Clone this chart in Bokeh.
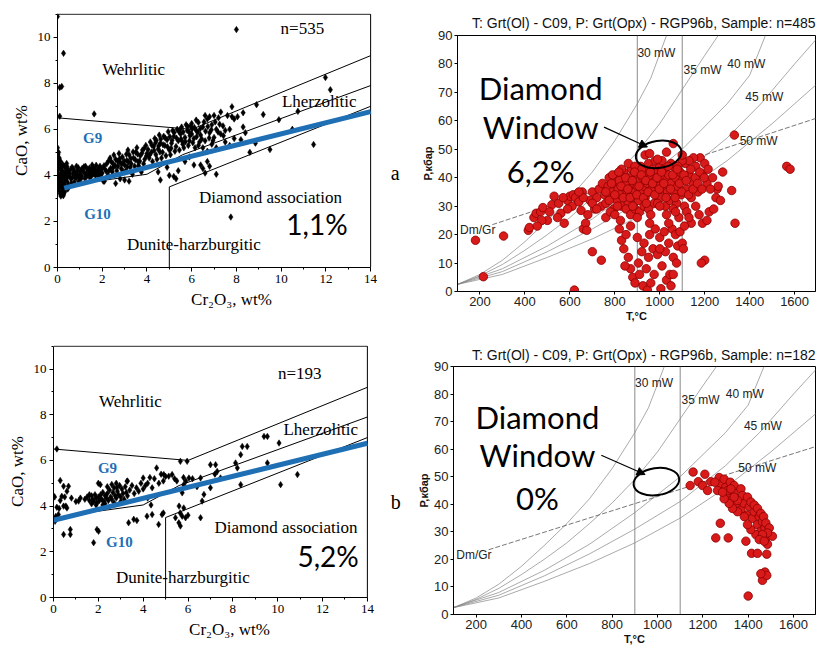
from bokeh.plotting import figure
from bokeh.models import Range1d, FixedTicker, Label, Arrow, NormalHead
from bokeh.layouts import row, column
from bokeh.embed import file_html
from bokeh.resources import INLINE

# ---------------- data: Cr2O3 - CaO diagrams ----------------
x_ticks_cr = [0, 2, 4, 6, 8, 10, 12, 14]
x_minor_cr = list(range(0, 15))
y_ticks_ca = [0, 2, 4, 6, 8, 10]
y_minor_ca = list(range(0, 12))

wehr_x = [0, 6, 14]
wehr_y = [6.5, 6.0, 9.2]
lherz_x = [1.2, 4.0, 5.6, 14]
lherz_y = [3.67, 4.05, 4.9, 7.9]
diam_x = [5, 5, 14]
diam_y = [0, 3.5, 7.0]
frame_top_x = [0, 14]
frame_top_y = [11, 11]
frame_right_x = [14, 14]
frame_right_y = [0, 11]
g_line_x_a = [0.3, 14]
g_line_y_a = [3.45, 6.77]
g_line_x_b = [0, 14]
g_line_y_b = [3.38, 6.75]

cr_a = [0.0, 0.02, 0.05, 0.03, 0.0, 0.06, 0.02, 0.08, 0.04, 0.1, 0.12, 0.15, 0.1, 0.12, 0.15, 0.18, 0.2, 0.22, 0.25, 0.28,
        0.18, 0.22, 0.25, 0.3, 0.32, 0.35, 0.38, 0.4, 0.42, 0.45, 0.48, 0.05, 0.08, 0.12, 0.16, 0.27, 0.3, 0.35, 0.06, 0.2,
        0.33, 0.5, 0.55, 0.6,
        0.7, 0.8, 0.9, 1.0, 1.1, 1.2, 1.3, 1.4, 1.5, 1.6, 1.7, 1.8, 1.9, 2.0, 0.65, 0.85, 1.05, 1.25, 1.45, 1.65, 1.85, 0.75,
        0.95, 1.55, 2.05,
        2.1, 2.2, 2.3, 2.4, 2.5, 2.6, 2.7, 2.8, 2.9, 3.0, 3.1, 3.2, 3.3, 3.4, 3.5, 3.6, 3.7, 3.8, 3.9, 4.0, 2.25, 2.45, 2.65,
        2.85, 3.05, 3.25, 3.45, 3.65, 3.85, 2.35, 2.75, 3.15, 3.55, 3.95, 2.6, 2.8, 3.0, 3.2, 2.1, 3.35, 3.75,
        4.1, 4.2, 4.3, 4.4, 4.5, 4.6, 4.7, 4.8, 4.9, 5.0, 5.1, 5.2, 5.3, 5.4, 5.5, 5.6, 5.7, 5.8, 5.9, 6.0, 4.15, 4.35, 4.55,
        4.75, 4.95, 5.15, 5.35, 5.55, 5.75, 4.25, 4.45, 4.65, 4.85, 5.05, 5.25, 5.45, 5.65, 5.85, 4.6, 4.5, 5.0, 5.2, 5.3,
        5.4, 4.9, 5.7, 5.9, 6.1,
        6.1, 6.2, 6.3, 6.4, 6.5, 6.6, 6.7, 6.8, 6.9, 7.0, 7.1, 7.2, 7.3, 7.4, 7.5, 7.6, 6.3, 6.5, 6.7, 6.9, 7.1, 6.2, 6.8,
        7.7, 7.9, 6.5, 6.6, 6.7, 6.8, 7.1, 6.4, 6.0, 6.15, 7.3, 7.0, 6.6, 7.8, 7.5, 7.9, 7.7,
        0.0, 0.27, 0.1, 0.19, 0.1, 1.64, 8.0, 11.98, 12.2, 8.9, 7.8, 8.3, 9.2, 10.75, 8.85, 8.4, 8.2, 8.6, 9.5, 10.5, 11.45,
        9.9, 7.75, 8.3, 8.05,
        0.13, 0.23, 0.33, 0.43, 0.52, 0.58, 0.63, 0.68, 0.72, 0.78, 0.83, 0.88, 0.93, 0.98, 0.07, 0.17, 0.26, 0.36, 0.46, 0.41,
        1.03, 1.08, 1.13, 1.18, 1.22, 1.28, 1.33, 1.38, 1.43, 1.47, 1.52, 1.57, 1.62, 1.68, 1.73, 1.78, 1.83, 1.88, 1.93, 1.98,
        2.08, 2.18, 2.28, 2.38, 2.48, 2.58, 2.68, 2.78, 2.88, 2.98, 3.08, 3.18, 3.28, 3.38, 3.48, 3.58, 3.68, 3.78, 3.88, 3.98,
        2.52, 3.12, 3.62, 2.93,
        4.05, 4.12, 4.22, 4.32, 4.42, 4.52, 4.62, 4.72, 4.82, 4.92, 5.02, 5.12, 5.22, 5.32, 5.42, 5.52, 5.62, 5.72, 5.82, 5.92,
        6.02, 4.58, 5.08, 5.58, 4.38, 5.48, 5.95, 5.88,
        6.05, 6.12, 6.22, 6.28, 6.38, 6.45, 6.55, 6.62, 6.72, 6.78, 6.88, 7.05, 7.18, 7.25, 7.42, 6.35, 6.95]
ca_a = [5.2, 4.9, 4.6, 4.4, 4.2, 4.0, 3.8, 3.6, 3.45, 3.3, 3.2, 3.1, 4.5, 4.3, 4.1, 3.9, 3.7, 3.5, 3.35, 3.2,
        4.4, 4.2, 4.0, 3.85, 3.6, 3.45, 4.3, 4.1, 3.9, 3.7, 4.2, 5.0, 4.75, 3.95, 3.75, 3.6, 4.4, 4.15, 3.95, 3.25,
        3.3, 3.55, 4.05, 3.85,
        4.1, 3.95, 4.2, 4.05, 4.3, 4.1, 3.95, 4.25, 4.1, 4.35, 4.0, 4.2, 4.4, 4.1, 4.35, 4.4, 3.85, 4.4, 3.9, 4.15, 3.95, 3.7,
        3.75, 4.45, 3.75,
        4.3, 4.5, 4.2, 4.6, 4.35, 4.7, 4.4, 4.55, 4.8, 4.45, 4.65, 4.9, 4.5, 4.75, 5.0, 4.6, 4.85, 5.1, 4.7, 4.95, 4.0, 4.15, 4.2,
        4.3, 4.2, 4.35, 4.4, 4.35, 4.5, 4.75, 4.95, 5.1, 5.2, 5.3, 3.65, 3.85, 3.8, 3.75, 3.75, 4.05, 4.15,
        4.75, 5.0, 5.25, 4.9, 5.15, 5.4, 5.0, 5.3, 5.55, 5.1, 5.4, 5.7, 5.25, 5.5, 5.8, 5.35, 5.65, 5.95, 5.5, 5.8, 5.45, 5.6, 5.75,
        5.7, 5.9, 5.95, 6.0, 6.1, 6.2, 4.6, 4.7, 4.75, 4.85, 4.9, 5.05, 5.1, 5.2, 5.3, 3.8, 4.15, 4.0, 3.95, 3.85,
        4.2, 4.35, 4.6, 4.8, 4.45,
        5.6, 5.95, 6.3, 5.75, 6.1, 5.5, 6.45, 5.85, 6.2, 5.65, 6.0, 6.5, 5.8, 6.15, 5.45, 6.6, 5.3, 5.2, 5.05, 5.35, 5.2, 6.4, 6.55,
        6.0, 6.45, 4.3, 4.1, 4.6, 4.4, 4.05, 4.45, 6.25, 5.2, 6.75, 6.6, 6.6, 6.55, 5.95, 5.6, 5.3,
        10.9, 9.3, 7.82, 7.86, 6.57, 6.67, 10.33, 8.25, 7.72, 7.07, 6.98, 6.72, 6.64, 6.78, 5.4, 5.85, 5.55, 5.0, 5.12, 6.0, 5.34,
        6.42, 2.19, 6.1, 6.55,
        4.62, 4.48, 4.02, 4.38, 3.98, 4.24, 3.66, 3.92, 4.28, 4.14, 3.88, 4.02, 4.33, 3.93, 3.72, 3.48, 3.12, 3.82, 3.41, 4.52,
        4.18, 3.97, 4.22, 4.37, 3.88, 4.08, 4.27, 4.05, 4.32, 4.16, 3.98, 4.28, 4.06, 4.24, 4.44, 4.08, 4.31, 4.18, 4.02, 4.29,
        4.42, 4.18, 4.62, 4.31, 4.52, 4.42, 4.62, 4.72, 4.51, 4.63, 4.92, 4.58, 4.73, 5.02, 4.68, 4.93, 4.61, 4.97, 5.18, 4.85,
        4.88, 4.38, 4.42, 4.17,
        5.12, 4.88, 5.31, 5.08, 5.52, 5.28, 5.58, 5.33, 5.62, 5.24, 5.68, 5.52, 5.86, 5.62, 5.92, 5.58, 5.88, 5.46, 6.12, 5.72,
        6.02, 5.02, 5.18, 5.48, 5.42, 5.98, 6.15, 5.9,
        5.42, 6.08, 5.68, 5.88, 6.02, 5.58, 6.32, 5.92, 6.12, 5.62, 5.98, 6.32, 5.88, 6.22, 5.72, 5.45, 5.5]

cr_b = [0.0, 0.05, 0.15, 0.3, 0.45, 0.6, 0.67, 0.37, 0.45, 0.6, 0.22, 0.07, 0.1, 0.45, 0.75, 0.75, 0.3, 0.5, 0.8, 1.0,
        1.12, 1.2, 0.15, 0.25, 0.55,
        1.4, 1.5, 1.6, 1.7, 1.75, 1.8, 1.85, 1.9, 1.95, 2.0, 2.05, 2.1, 2.15, 2.2, 2.25, 2.3, 2.35, 2.4, 2.45, 2.5, 2.55,
        2.6, 2.65, 2.7, 2.75, 2.8, 2.85, 2.9, 2.95, 3.0, 3.05, 3.1, 3.2, 3.25, 3.3, 3.4, 3.5, 3.6, 3.7, 3.8, 3.9, 4.0,
        1.9, 2.3, 2.7, 1.6, 2.0, 2.4, 2.8, 3.3, 3.0, 2.2, 1.7, 2.6, 3.15,
        4.2, 4.3, 4.4, 4.5, 4.6, 4.7, 4.8, 4.9, 4.92, 5.0, 5.14, 5.29, 5.4, 5.5, 5.66, 5.96, 5.8, 5.9, 4.0, 3.28, 2.83, 2.09, 4.1,
        1.79, 1.94, 2.01, 3.35, 3.58, 3.72, 4.17, 4.4, 4.69, 4.84, 5.44, 5.59, 5.66, 5.74, 5.81, 5.89, 5.74, 5.81, 6.04, 5.6,
        5.65, 4.2, 4.35, 4.9,
        6.56, 6.63, 6.71, 6.56, 7.0, 7.23, 7.3, 7.45, 7.0, 8.12, 8.2, 8.35, 8.64, 8.42, 8.35, 9.39, 9.54, 9.54, 10.06, 10.13,
        10.88, 6.2, 6.4, 7.2, 6.0]
ca_b = [4.45, 4.4, 6.5, 5.12, 4.87, 4.65, 4.87, 4.43, 4.0, 3.92, 3.63, 3.34, 3.55, 2.76, 2.98, 2.76, 4.25, 4.4, 4.35, 4.2,
        4.22, 4.35, 3.95, 3.9, 4.0,
        4.3, 4.4, 4.25, 4.45, 4.3, 4.2, 4.5, 4.35, 4.15, 4.4, 4.25, 4.5, 4.3, 4.6, 4.2, 4.45, 4.35, 4.55, 4.25, 4.7, 4.4,
        4.3, 4.6, 4.8, 4.45, 4.35, 4.65, 4.5, 4.9, 4.4, 4.75, 4.55, 4.85, 4.6, 4.45, 4.7, 4.9, 4.55, 4.8, 4.65, 5.0, 4.75,
        4.05, 4.1, 4.15, 4.5, 5.0, 4.85, 5.0, 5.1, 4.2, 4.05, 4.1, 4.95, 4.3,
        5.0, 5.25, 4.8, 5.2, 5.67, 5.0, 5.4, 5.1, 5.38, 5.3, 5.31, 5.38, 5.2, 5.1, 5.96, 5.96, 5.25, 5.1, 5.23, 5.09, 4.8, 4.94, 4.9,
        2.4, 2.98, 2.9, 3.27, 3.42, 3.37, 3.56, 3.63, 3.2, 3.63, 3.49, 3.27, 3.13, 3.56, 3.92, 3.49, 4.58, 4.94, 5.23, 4.0,
        3.7, 4.35, 4.05, 3.7,
        3.49, 4.22, 4.51, 5.23, 5.81, 5.81, 5.52, 5.23, 4.8, 5.89, 5.67, 6.25, 6.61, 6.61, 4.94, 7.05, 7.05, 5.89, 6.76, 4.94,
        5.38, 5.2, 4.85, 5.4, 3.6]

# ---------------- data: P-T diagrams ----------------
t_ticks = [200, 400, 600, 800, 1000, 1200, 1400, 1600]
p_ticks = [0, 10, 20, 30, 40, 50, 60, 70, 80, 90]

geo30_t = [100, 200, 300, 400, 500, 600, 700, 800, 900, 960, 1030]
geo30_p = [2.5, 6, 11, 17.5, 25, 33, 42, 53, 66, 75, 90]
geo35_t = [100, 200, 300, 400, 500, 600, 700, 800, 900, 1000, 1100, 1200, 1260]
geo35_p = [2.5, 5.5, 9.5, 14.5, 20, 26, 33, 40.5, 49, 59, 71, 83, 90]
geo40_t = [100, 300, 500, 700, 900, 1100, 1300, 1400, 1470]
geo40_p = [2.5, 8, 16, 25.5, 37, 50, 66, 76, 90]
geo45_t = [100, 300, 500, 700, 900, 1100, 1300, 1450, 1600, 1700]
geo45_p = [2.5, 7, 14, 22, 31, 41, 54, 66, 80, 89]
geo50_t = [100, 300, 500, 700, 900, 1100, 1300, 1500, 1700]
geo50_p = [2.5, 6, 12, 18.5, 26, 35, 46, 59, 73]
dmgr_t = [255, 1700]
dmgr_p = [23.5, 61]
window_t = [900, 1100]

t_a = [180, 305, 215, 415, 420, 440, 450, 470, 480, 520, 530, 500, 550, 560, 575, 590, 600, 610, 615, 625, 640, 650,
       660, 655, 670, 675, 690, 700, 710, 700, 740, 620,
       720, 730, 740, 745, 755, 760, 770, 775, 780, 790, 795, 800, 805, 810, 815, 820, 825, 830, 835, 840, 845, 850, 855,
       860, 865, 870, 875, 880, 885, 890, 895, 900, 905, 910, 915, 920, 925, 930, 935, 940, 945, 950, 955, 960, 965, 970,
       975, 980, 985, 990, 995, 1000, 1005, 1010, 1015, 1020, 1025, 1030, 1035, 1040, 1045, 1050, 1060, 1065, 1070, 1075,
       1080, 1090, 1095, 1100, 1110, 1115, 1120, 1130, 1140, 1150, 1160, 1170, 1180, 1190, 1200, 1210, 1160, 1175, 1140,
       1190, 1210, 1220, 1240, 1250, 1255, 1280, 1260, 1150, 1130, 1100,
       760, 780, 800, 850, 870, 890, 910, 930, 950, 990, 1030, 1060, 1085, 1120, 900, 825,
       790, 830, 860, 890, 920, 980, 1010, 1050, 1080,
       935, 955, 1030, 1060, 1100, 990,
       1332, 1335, 1565, 1580, 1200, 1185, 1270, 1320,
       820, 830, 840, 850, 860, 870, 880, 890, 900, 905, 910, 920, 925, 930, 940, 945, 950, 955, 960, 970, 975, 980, 990,
       1000, 1005, 1010, 1020, 1025, 1030, 1040, 1045, 1050, 1055, 1060, 1070, 1080, 1090, 1100, 1105, 1110, 1060, 1000,
       955, 870, 845, 1075,
       760, 775, 785, 800, 812, 818, 828, 838, 848, 858, 868, 878, 888, 898, 908, 918, 928, 938, 948, 958, 968, 978, 988,
       998, 1008, 1018, 1028, 1038, 1048, 1058, 1068, 1078, 1088, 1098, 1108, 1118, 1128, 1138, 1148, 1158, 1168, 1178,
       1188, 1198, 1215, 1225, 1235, 880, 940, 1000, 1070, 1130, 960, 1040, 700, 720, 680, 660, 640, 590, 570, 545, 510,
       475, 455]
p_a = [18, 19.5, 5.2, 21.5, 22.5, 26, 27.5, 28, 29.5, 30.5, 33.5, 25, 31, 27.5, 24, 32, 33.5, 30, 34, 33, 31.5, 28.5,
       22, 35, 24, 21.5, 32, 35, 29, 14, 11, 0.5,
       33, 36, 30, 38, 34, 31, 37, 40, 33, 35, 29, 38, 41, 32, 36, 39, 34, 30, 37, 42, 33, 38, 35,
       31, 40, 36, 43, 33, 38, 35, 41, 37, 32, 39, 44, 35, 40, 37, 33, 42, 38, 45, 35, 40, 36, 43,
       31, 39, 34, 42, 37, 44, 33, 40, 36, 43, 30, 39, 35, 41, 32, 38, 44, 35, 40, 31,
       37, 42, 34, 39, 30, 45, 36, 41, 33, 38, 44, 35, 47, 41, 45, 38, 30, 27, 24,
       24, 25, 28, 29, 33, 36, 42, 37, 47, 46, 46,
       26, 28, 27, 29, 27, 29, 28, 30, 29, 31, 27, 29, 26, 28, 26, 25,
       41, 43, 45, 44, 43, 46, 46, 45, 44,
       48, 48.5, 49, 52, 48, 46.5,
       55, 24, 44, 43, 11, 10, 32, 35.5,
       22, 18, 15, 20, 12, 8, 5, 3, 19, 10, 6, 14, 2, 17, 8, 0.5, 12, 20, 3, 15, 6, 22, 13,
       19, 1, 9, 21, 14, 4, 17, 6, 2, 22, 12, 20, 16, 21, 17, 15, 23, 6, 15,
       24, 23, 9, 10,
       35, 32, 38, 34, 30, 42, 37, 33, 40, 36, 33, 39, 42, 34, 37, 41, 33, 39, 35, 42, 38, 34, 40,
       36, 42, 38, 33, 44, 36, 41, 33, 43, 38, 35, 41, 39, 34, 43, 36, 40, 38, 42,
       36, 40, 43, 36, 40, 30, 31, 30, 28, 26, 27, 24, 31, 29, 27, 33, 35, 29, 33, 26, 28,
       25, 23]

t_b = [1157, 1209, 1144, 1180, 1199, 1221, 1235, 1272, 1280, 1265, 1302, 1312, 1324, 1338, 1346, 1360, 1368, 1383,
       1394, 1405, 1419, 1427, 1441, 1449, 1456, 1463, 1474, 1478, 1485, 1507, 1434, 1412, 1397, 1383, 1353, 1331, 1316,
       1294, 1277, 1257, 1312, 1390, 1415, 1441, 1482, 1474, 1463, 1482, 1456, 1400, 1294, 1253, 1321, 1338, 1368, 1375,
       1397, 1412, 1427, 1441, 1456, 1468, 1478, 1493, 1485, 1463, 1449, 1471, 1353, 1338, 1309, 1287, 1324]
p_b = [51.7, 50.9, 46.8, 48.2, 46.8, 45.0, 48.2, 49.7, 47.4, 45.0, 46.2, 43.8, 41.4, 44.4, 39.7, 42.0, 37.9, 40.3,
       36.1, 39.1, 34.9, 37.3, 32.6, 35.5, 30.2, 33.7, 31.4, 27.8, 25.5, 28.4, 29.0, 30.8, 32.6, 35.5, 37.3, 38.5, 40.3,
       42.0, 33.1, 27.8, 27.8, 26.6, 22.2, 22.2, 21.9, 15.4, 12.4, 14.2, 14.8, 6.7, 49.1, 48.0, 48.0, 46.8, 45.6, 43.2,
       42.6, 40.8, 39.7, 38.5, 36.7, 35.5, 33.2, 31.4, 29.6, 29.0, 27.2, 26.6, 41.4, 42.6, 45.0, 44.4, 45.6]

SERIF = "Liberation Serif"
SANS = "Liberation Sans"
BIG = "Lato"


def left_panel(w, h, bl, bt, bb, x_end, xs, ys, gx, gy, texts, letter, letter_xy):
    p = figure(width=w, height=h, x_range=Range1d(0, x_end), y_range=Range1d(0, 11.03),
               output_backend="svg", toolbar_location=None, title=None,
               min_border_left=bl, min_border_right=0, min_border_top=bt, min_border_bottom=bb)
    p.frame_align = False
    p.grid.visible = False
    p.outline_line_color = None
    p.xaxis.ticker = FixedTicker(ticks=x_ticks_cr, minor_ticks=x_minor_cr)
    p.yaxis.ticker = FixedTicker(ticks=y_ticks_ca, minor_ticks=y_minor_ca)
    p.xaxis.bounds = (0, 14)
    p.yaxis.bounds = (0, 11)
    for ax in (p.xaxis[0], p.yaxis[0]):
        ax.axis_line_color = "black"
        ax.major_tick_in = 0
        ax.major_tick_out = 4
        ax.minor_tick_in = 0
        ax.minor_tick_out = 2
        ax.major_label_standoff = 3
        ax.major_label_text_font = SERIF
        ax.major_label_text_font_size = "13px"
        ax.major_label_text_color = "black"
        ax.axis_label_text_font = SERIF
        ax.axis_label_text_font_size = "17px"
        ax.axis_label_text_font_style = "normal"
        ax.axis_label_text_color = "black"
        ax.axis_label_standoff = 4
    p.xaxis.axis_label = "Cr\u2082O\u2083, wt%"
    p.yaxis.axis_label = "CaO, wt%"

    p.line(frame_top_x, frame_top_y, line_color="black", line_width=1)
    p.line(frame_right_x, frame_right_y, line_color="black", line_width=1)
    p.line(wehr_x, wehr_y, line_color="black", line_width=1)
    p.line(lherz_x, lherz_y, line_color="black", line_width=1)
    p.line(diam_x, diam_y, line_color="black", line_width=1)
    p.scatter(xs, ys, marker="diamond", size=6.5, fill_color="black", line_color="black", line_width=0.5)
    p.line(gx, gy, line_color="#1f6fb5", line_width=5)

    for (tx, x, y, font, size, color, style) in texts:
        p.add_layout(Label(x=x, y=y, text=tx, text_font=font, text_font_size=size, text_color=color,
                           text_font_style=style, text_align="center", text_baseline="middle"))
    p.add_layout(Label(x=letter_xy[0], y=letter_xy[1], text=letter, text_font=SERIF, text_font_size="20px",
                       text_align="center", text_baseline="middle", text_color="black"))
    return p


def right_panel(w, h, bl, br, bt, bb, x_end, ts, ps, title, pct, title_standoff):
    p = figure(width=w, height=h, x_range=Range1d(100, x_end), y_range=Range1d(0, 90),
               output_backend="svg", toolbar_location=None, title=title,
               min_border_left=bl, min_border_right=br, min_border_top=bt, min_border_bottom=bb)
    p.frame_align = False
    p.title.align = "right"
    p.title.text_font = SANS
    p.title.text_font_size = "14px"
    p.title.text_font_style = "normal"
    p.title.text_color = "#111111"
    p.title.standoff = title_standoff
    p.grid.visible = False
    p.outline_line_color = "black"
    p.outline_line_width = 1
    p.xaxis.ticker = FixedTicker(ticks=t_ticks)
    p.yaxis.ticker = FixedTicker(ticks=p_ticks)
    for ax in (p.xaxis[0], p.yaxis[0]):
        ax.axis_line_color = "black"
        ax.major_tick_in = 0
        ax.major_tick_out = 3
        ax.minor_tick_out = 0
        ax.minor_tick_in = 0
        ax.major_label_standoff = 2
        ax.major_label_text_font = SANS
        ax.major_label_text_font_size = "13px"
        ax.major_label_text_color = "#222222"
        ax.axis_label_text_font = SANS
        ax.axis_label_text_font_size = "11px"
        ax.axis_label_text_font_style = "bold"
        ax.axis_label_text_color = "#111111"
        ax.axis_label_standoff = 1
    p.yaxis.axis_label = "P,кбар"
    p.xaxis.axis_label = "T,°C"

    for t in window_t:
        p.line([t, t], [0, 90], line_color="#8a8a8a", line_width=1)
    for gt, gp in ((geo30_t, geo30_p), (geo35_t, geo35_p), (geo40_t, geo40_p),
                   (geo45_t, geo45_p), (geo50_t, geo50_p)):
        p.line(gt, gp, line_color="#858585", line_width=0.7)
    p.line(dmgr_t, dmgr_p, line_color="#555555", line_width=0.8, line_dash="5 2")

    for tx, x, y in (("30 mW", 985, 84), ("35 mW", 1190, 78), ("40 mW", 1385, 80),
                     ("45 mW", 1465, 68.5), ("50 mW", 1440, 53), ("Dm/Gr", 190, 21.5)):
        p.add_layout(Label(x=x, y=y, text=tx, text_font=SANS, text_font_size="12px",
                           text_align="center", text_baseline="middle", text_color="#222222"))

    p.scatter(ts, ps, marker="circle", size=8.5, fill_color="#d91a1a", line_color="#8c0000", line_width=0.8)

    p.ellipse(x=[995], y=[48.2], width=46, height=27, width_units="screen", height_units="screen",
              angle=0.15, fill_color=None, line_color="black", line_width=2)
    p.add_layout(Arrow(end=NormalHead(size=8, fill_color="black", line_color="black"),
                       x_start=752, y_start=57.8, x_end=945, y_end=50.8, line_color="black", line_width=1.2))

    for tx, y in (("Diamond", 71.6), ("Window", 57.8), (pct, 42.4)):
        p.add_layout(Label(x=470, y=y, text=tx, text_font=BIG, text_font_size="31px",
                           text_align="center", text_baseline="middle", text_color="black"))
    return p


texts_a = [("Wehrlitic", 3.4, 8.6, SERIF, "17px", "black", "normal"),
           ("Lherzolitic", 11.7, 7.2, SERIF, "17px", "black", "normal"),
           ("Diamond association", 9.52, 3.03, SERIF, "17px", "black", "normal"),
           ("Dunite-harzburgitic", 6.1, 1.0, SERIF, "17px", "black", "normal"),
           ("n=535", 10.95, 10.4, SERIF, "17px", "black", "normal"),
           ("G9", 1.57, 5.63, SERIF, "15px", "#1f6fb5", "bold"),
           ("G10", 1.79, 2.31, SERIF, "15px", "#1f6fb5", "bold"),
           ("1,1%", 11.6, 1.88, BIG, "28px", "black", "normal")]
texts_b = [("Wehrlitic", 3.43, 8.58, SERIF, "17px", "black", "normal"),
           ("Lherzolitic", 11.92, 7.34, SERIF, "17px", "black", "normal"),
           ("Diamond association", 10.37, 3.05, SERIF, "17px", "black", "normal"),
           ("Dunite-harzburgitic", 5.77, 0.87, SERIF, "17px", "black", "normal"),
           ("n=193", 10.98, 9.81, SERIF, "17px", "black", "normal"),
           ("G9", 2.41, 5.67, SERIF, "15px", "#1f6fb5", "bold"),
           ("G10", 2.94, 2.43, SERIF, "15px", "#1f6fb5", "bold"),
           ("5,2%", 12.25, 1.82, BIG, "28px", "black", "normal")]

# top row: 324 px tall, bottom row: 323 px tall; left column 405 px, right column 414 px
p1 = left_panel(405, 324, 57, 13, 57, 15.56, cr_a, ca_a, g_line_x_a, g_line_y_a, texts_a, "a", (15.1, 4.1))
p2 = right_panel(414, 324, 52, 4, 35, 33, 1693, t_a, p_a,
                 "T: Grt(Ol) - C09, P: Grt(Opx) - RGP96b, Sample: n=485", "6,2%", 9)
p3 = left_panel(405, 323, 53, 21, 50, 15.7, cr_b, ca_b, g_line_x_b, g_line_y_b, texts_b, "b", (15.27, 4.2))
p4 = right_panel(414, 323, 48, 4, 42, 28, 1697, t_b, p_b,
                 "T: Grt(Ol) - C09, P: Grt(Opx) - RGP96b, Sample: n=182", "0%", 8)

layout = column(row(p1, p2), row(p3, p4))
open("out.html", "w").write(file_html(layout, INLINE))
